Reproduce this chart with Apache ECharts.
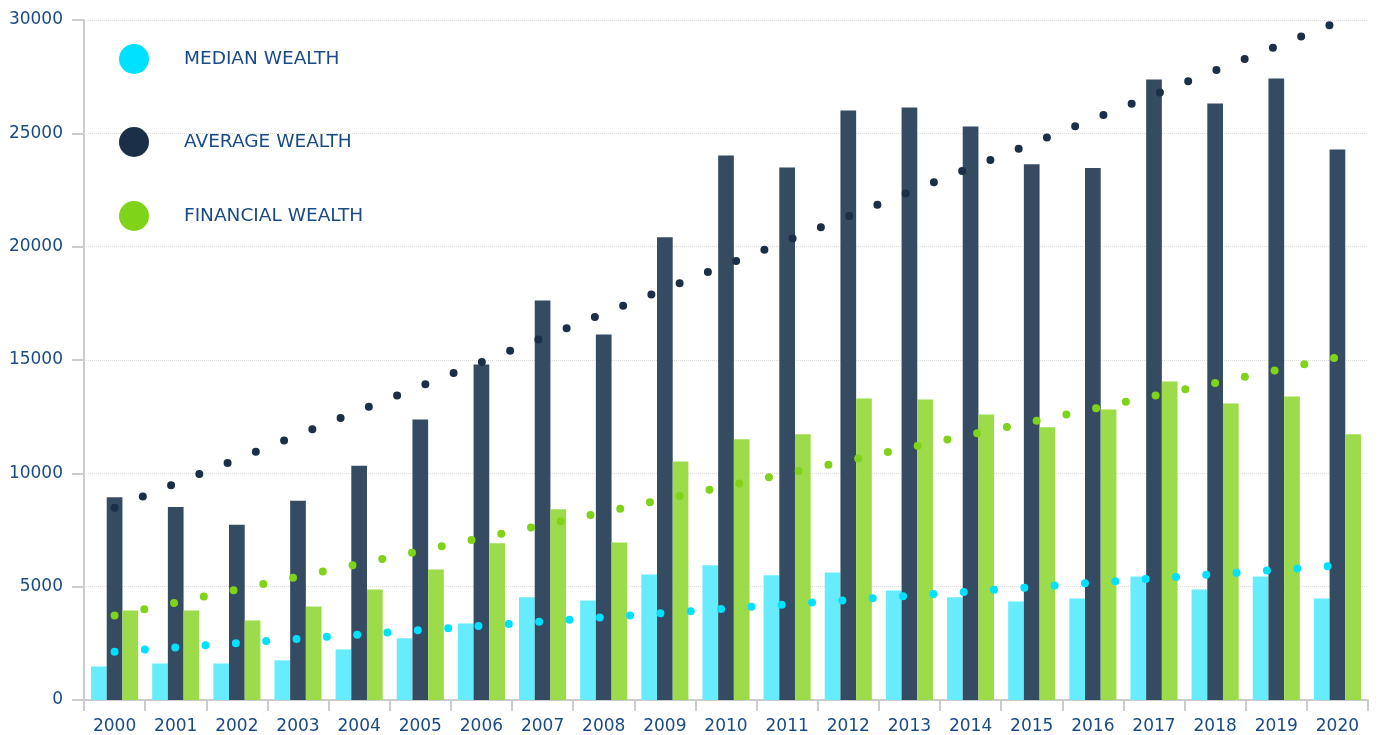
<!DOCTYPE html>
<html>
<head>
<meta charset="utf-8">
<title>Median, Average and Financial Wealth 2000–2020</title>
<script src="https://cdn.jsdelivr.net/npm/echarts@6/dist/echarts.min.js"></script>
<style>
  html, body { margin: 0; padding: 0; background: #ffffff; }
  #chart { width: 1379px; height: 735px; }
</style>
</head>
<body>
<div id="chart"></div>
<script>
// Years on the category axis
const years = ['2000','2001','2002','2003','2004','2005','2006','2007','2008','2009','2010',
               '2011','2012','2013','2014','2015','2016','2017','2018','2019','2020'];

// Yearly values
const medianWealth = [1480, 1610, 1610, 1750, 2230, 2720, 3380, 4530, 4390, 5540, 5940,
                      5500, 5630, 4830, 4530, 4350, 4480, 5450, 4880, 5450, 4480];
const averageWealth = [8940, 8520, 7730, 8790, 10340, 12380, 14800, 17630, 16130, 20410, 24020,
                       23490, 26010, 26140, 25300, 23640, 23470, 27380, 26320, 27420, 24290];
const financialWealth = [3950, 3950, 3510, 4130, 4880, 5760, 6910, 8410, 6950, 10520, 11500,
                         11720, 13300, 13260, 12600, 12030, 12820, 14050, 13080, 13390, 11720];

// Linear trend: value in the first and last year, the line is drawn straight between them
const medianTrendEnds = [2130, 5930];
const averageTrendEnds = [8480, 29910];
const financialTrendEnds = [3730, 15125];

// Y axis ticks
const yTicks = [0, 5000, 10000, 15000, 20000, 25000, 30000];

const names = ['MEDIAN WEALTH', 'AVERAGE WEALTH', 'FINANCIAL WEALTH'];

function trendSeriesData(ends) {
  const arr = years.map(() => null);
  arr[0] = ends[0];
  arr[arr.length - 1] = ends[1];
  return arr;
}

const textBlue = '#1a4b86';
const axisGrey = '#cccccc';
const fontFamily = 'DejaVu Sans, Lato, sans-serif';

const barColors = ['#66ecfd', '#344b62', '#9cdc4a'];
const dotColors = ['#00e1ff', '#1b3048', '#7fd41a'];

function barSeries(name, data, color) {
  return {
    name: name,
    type: 'bar',
    data: data,
    barGap: '0%',
    barCategoryGap: '23%',
    itemStyle: { color: color },
    z: 2
  };
}

function trendSeries(name, ends, color) {
  return {
    name: name,
    type: 'line',
    data: trendSeriesData(ends),
    connectNulls: true,
    symbol: 'none',
    silent: true,
    lineStyle: {
      color: color,
      width: 8,
      type: [0, 30.4],
      cap: 'round'
    },
    z: 5
  };
}

const legendTops = [44, 127, 201];

const chart = echarts.init(document.getElementById('chart'), null, { renderer: 'canvas' });

chart.setOption({
  animation: false,
  backgroundColor: '#ffffff',
  grid: { left: 84, right: 11, top: 20, bottom: 35, containLabel: false },
  legend: names.map((n, i) => ({
    data: [{ name: n, itemStyle: { color: dotColors[i] } }],
    icon: 'circle',
    itemWidth: 30,
    itemHeight: 30,
    left: 119,
    top: legendTops[i],
    orient: 'vertical',
    padding: 0,
    selectedMode: true,
    textStyle: {
      color: textBlue,
      fontFamily: fontFamily,
      fontSize: 18.5,
      padding: [0, 0, 0, 30]
    }
  })),
  xAxis: {
    type: 'category',
    data: years,
    boundaryGap: true,
    axisLine: { lineStyle: { color: axisGrey, width: 2 } },
    axisTick: { show: true, length: 11, lineStyle: { color: axisGrey, width: 2 } },
    axisLabel: {
      color: textBlue,
      fontFamily: fontFamily,
      fontSize: 17,
      margin: 18,
      interval: 0
    },
    splitLine: { show: false }
  },
  yAxis: {
    type: 'value',
    min: yTicks[0],
    max: yTicks[yTicks.length - 1],
    interval: yTicks[1] - yTicks[0],
    axisLine: { show: true, lineStyle: { color: axisGrey, width: 2 } },
    axisTick: { show: true, length: 12, lineStyle: { color: axisGrey, width: 2 } },
    axisLabel: {
      color: textBlue,
      fontFamily: fontFamily,
      fontSize: 17,
      margin: 21,
      formatter: v => String(v)
    },
    splitLine: { show: true, lineStyle: { color: '#dddddd', type: 'dotted', width: 1 } }
  },
  series: [
    barSeries(names[0], medianWealth, barColors[0]),
    barSeries(names[1], averageWealth, barColors[1]),
    barSeries(names[2], financialWealth, barColors[2]),
    trendSeries(names[0], medianTrendEnds, dotColors[0]),
    trendSeries(names[1], averageTrendEnds, dotColors[1]),
    trendSeries(names[2], financialTrendEnds, dotColors[2])
  ]
});
</script>
</body>
</html>
